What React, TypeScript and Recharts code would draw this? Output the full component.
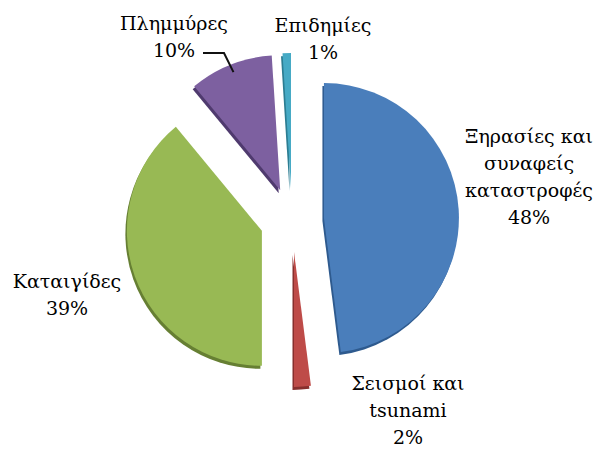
import { PieChart, Pie, Sector } from "recharts";

const categories = [
  "Ξηρασίες και συναφείς καταστροφές",
  "Σεισμοί και tsunami",
  "Καταιγίδες",
  "Πλημμύρες",
  "Επιδημίες",
];
const labelLines = [
  ["Ξηρασίες και", "συναφείς", "καταστροφές"],
  ["Σεισμοί και", "tsunami"],
  ["Καταιγίδες"],
  ["Πλημμύρες"],
  ["Επιδημίες"],
];
const shares = [48, 2, 39, 10, 1];
const colors = ["#4A7EBB", "#BE4B48", "#98B954", "#7D60A0", "#46AAC5"];
const shadeColors = ["#2E5A8E", "#872F2D", "#667F33", "#4F3A6E", "#2C7D92"];

// label block anchors (centre x, first line centre y)
const labelPos = [
  { x: 529, y: 136 },
  { x: 408, y: 383 },
  { x: 67, y: 281 },
  { x: 174, y: 23 },
  { x: 323, y: 25 },
];
const LINE_H = 27;
const EXPLODE = 32;
const RAD = Math.PI / 180;
const FONT = "'DejaVu Serif', serif";

const data = categories.map((name, i) => ({
  name,
  value: shares[i],
  fill: colors[i],
  shade: shadeColors[i],
}));

function ExplodedSector(props: any) {
  const { cx, cy, midAngle, innerRadius, outerRadius, startAngle, endAngle, fill } = props;
  const shade = props.shade ?? props.payload?.shade ?? "#333";
  const dx = Math.cos(-midAngle * RAD) * EXPLODE;
  const dy = Math.sin(-midAngle * RAD) * EXPLODE;
  const common = { innerRadius, outerRadius, startAngle, endAngle };
  return (
    <g>
      <Sector {...common} cx={cx + dx - 1.5} cy={cy + dy + 3} fill={shade} stroke="none" />
      <Sector {...common} cx={cx + dx} cy={cy + dy} fill={fill} stroke="none" />
    </g>
  );
}

function renderLabel(props: any) {
  const { cx, cy, midAngle, outerRadius, index, value } = props;
  const pos = labelPos[index];
  const lines = [...labelLines[index], `${value}%`];
  let leader = null;
  if (index === 3) {
    const r = outerRadius + EXPLODE - 8;
    const tx = cx + Math.cos(-midAngle * RAD) * r;
    const ty = cy + Math.sin(-midAngle * RAD) * r;
    const sy = pos.y + LINE_H + 3;
    leader = (
      <polyline
        points={`${pos.x + 29},${sy} ${pos.x + 50},${sy} ${tx},${ty}`}
        fill="none"
        stroke="#111"
        strokeWidth={2}
      />
    );
  }
  return (
    <g key={`lbl-${index}`}>
      {leader}
      <text
        x={pos.x}
        y={pos.y}
        textAnchor="middle"
        dominantBaseline="central"
        style={{ fontFamily: FONT, fontSize: 19 }}
        fill="#000"
      >
        {lines.map((l, i) => (
          <tspan key={i} x={pos.x} dy={i === 0 ? 0 : LINE_H}>
            {l}
          </tspan>
        ))}
      </text>
    </g>
  );
}

export default function App() {
  return (
    <div style={{ position: "fixed", left: 0, top: 0, width: 599, height: 450, background: "#fff" }}>
      <PieChart width={599} height={450} margin={{ top: 0, right: 0, bottom: 0, left: 0 }}>
        <Pie
          data={data}
          dataKey="value"
          nameKey="name"
          cx={292}
          cy={220}
          outerRadius={135}
          startAngle={90}
          endAngle={-270}
          stroke="none"
          isAnimationActive={false}
          shape={ExplodedSector}
          inactiveShape={ExplodedSector}
          activeShape={ExplodedSector}
          label={renderLabel}
          labelLine={false}
        />
      </PieChart>
    </div>
  );
}
